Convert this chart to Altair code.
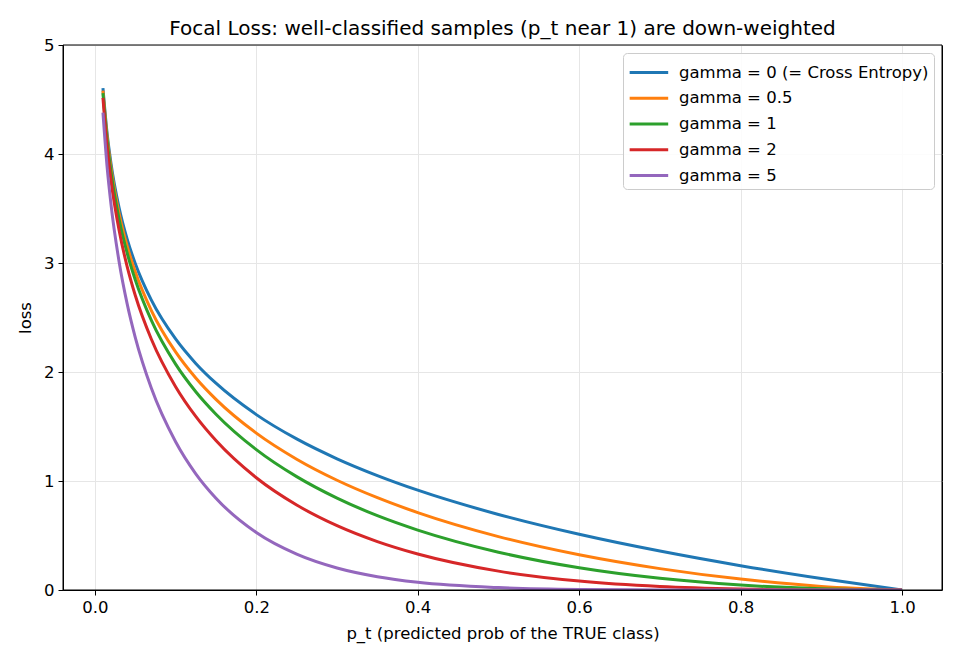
import altair as alt
import pandas as pd

p_t = [0.01, 0.015, 0.02, 0.03, 0.04, 0.05, 0.07, 0.1, 0.125, 0.15, 0.2, 0.25,
       0.3, 0.35, 0.4, 0.5, 0.6, 0.7, 0.8, 0.9, 1.0]

loss_g0 = [4.605, 4.200, 3.912, 3.507, 3.219, 2.996, 2.659, 2.303, 2.079, 1.897, 1.609, 1.386,
           1.204, 1.050, 0.916, 0.693, 0.511, 0.357, 0.223, 0.105, 0.0]
loss_g05 = [4.582, 4.168, 3.873, 3.454, 3.154, 2.920, 2.564, 2.184, 1.945, 1.749, 1.439, 1.200,
            1.007, 0.847, 0.710, 0.490, 0.323, 0.196, 0.100, 0.033, 0.0]
loss_g1 = [4.559, 4.137, 3.834, 3.402, 3.090, 2.846, 2.473, 2.072, 1.819, 1.613, 1.288, 1.040,
           0.843, 0.682, 0.550, 0.347, 0.204, 0.107, 0.045, 0.011, 0.0]
loss_g2 = [4.514, 4.075, 3.757, 3.300, 2.967, 2.704, 2.300, 1.865, 1.592, 1.371, 1.030, 0.780,
           0.590, 0.444, 0.330, 0.173, 0.082, 0.032, 0.009, 0.001, 0.0]
loss_g5 = [4.379, 3.894, 3.536, 3.012, 2.625, 2.318, 1.850, 1.360, 1.066, 0.842, 0.527, 0.329,
           0.202, 0.122, 0.071, 0.022, 0.005, 0.001, 0.0, 0.0, 0.0]

labels = ["gamma = 0 (= Cross Entropy)", "gamma = 0.5", "gamma = 1", "gamma = 2", "gamma = 5"]
series = [loss_g0, loss_g05, loss_g1, loss_g2, loss_g5]
colors = ["#1f77b4", "#ff7f0e", "#2ca02c", "#d62728", "#9467bd"]

rows = []
for i, (lab, vals) in enumerate(zip(labels, series)):
    for p, v in zip(p_t, vals):
        rows.append({"p": p, "loss": v, "series": lab, "order": i})
df = pd.DataFrame(rows)

FONT = "DejaVu Sans"
W, H = 879, 545

lines = alt.Chart(df).mark_line(strokeWidth=3, interpolate="monotone", clip=True).encode(
    x=alt.X("p:Q", scale=alt.Scale(domain=[-0.0395, 1.0495], nice=False, zero=False),
            axis=alt.Axis(values=[0, 0.2, 0.4, 0.6, 0.8, 1.0], format=".1f",
                          title="p_t (predicted prob of the TRUE class)")),
    y=alt.Y("loss:Q", scale=alt.Scale(domain=[0, 5], nice=False),
            axis=alt.Axis(values=[0, 1, 2, 3, 4, 5], format="d", title="loss")),
    color=alt.Color("series:N", scale=alt.Scale(domain=labels, range=colors),
                    legend=alt.Legend(title=None, orient="top-right", offset=8,
                                      symbolType="M-1,0L2,0", symbolStrokeWidth=3,
                                      symbolSize=660, labelFontSize=16.5, labelFont=FONT,
                                      labelColor="#000000", rowPadding=2.75, labelOffset=22,
                                      fillColor="rgba(255,255,255,0.85)", strokeColor="#cccccc",
                                      cornerRadius=4, padding=5, labelLimit=400)),
    order=alt.Order("order:Q"),
    detail="series:N",
)

frame = alt.Chart(pd.DataFrame({"a": [0]})).mark_rect(
    fill=None, stroke="black", strokeWidth=1
).encode(
    x=alt.value(0), x2=alt.value(W), y=alt.value(0), y2=alt.value(H)
)

chart = alt.layer(lines, frame).properties(
    width=W, height=H,
    title=alt.Title("Focal Loss: well-classified samples (p_t near 1) are down-weighted",
                    font=FONT, fontSize=20, fontWeight="normal", color="#000000", offset=-2),
    autosize=alt.AutoSizeParams(type="none"),
    padding={"left": 63, "top": 45, "right": 18, "bottom": 70},
).configure_axis(
    labelFont=FONT, labelFontSize=16.5, labelColor="#000000",
    titleFont=FONT, titleFontSize=16.5, titleFontWeight="normal", titleColor="#000000",
    domainColor="#000000", tickColor="#000000", tickSize=5, labelPadding=4,
    gridColor="#e6e6e6", gridWidth=1,
).configure_axisX(titlePadding=10).configure_axisY(titlePadding=10).configure_view(
    stroke="black", strokeWidth=1
)

chart.save("out.html", embed_options={"renderer": "svg", "actions": False})
